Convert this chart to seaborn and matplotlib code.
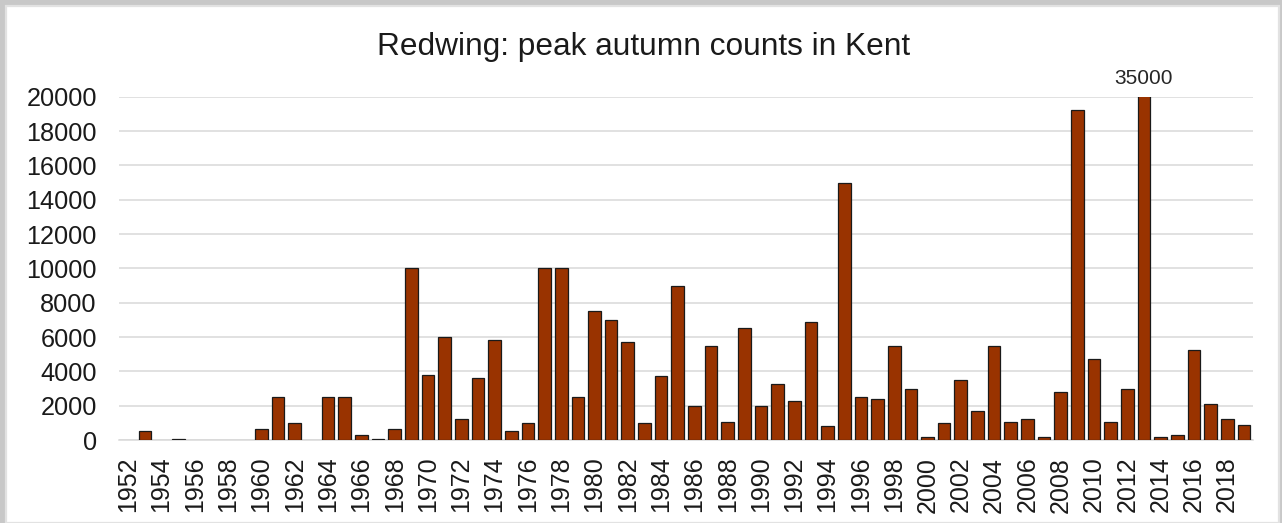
import matplotlib
matplotlib.use("Agg")
import matplotlib.pyplot as plt
from matplotlib.patches import Rectangle
import pandas as pd
import seaborn as sns

# Peak autumn Redwing counts in Kent, one value per year
years = list(range(1952, 2020))
counts = [
    0, 500, 0, 50, 0, 0, 0, 0,                 # 1952-1959
    650, 2500, 1000, 0, 2500, 2500, 300, 60,   # 1960-1967
    650, 10000, 3800, 6000, 1200, 3600, 5800,  # 1968-1974
    500, 1000, 10000, 10000, 2500, 7500, 7000, # 1975-1981
    5700, 1000, 3700, 9000, 2000, 5500, 1050,  # 1982-1988
    6500, 2000, 3250, 2300, 6900, 800, 15000,  # 1989-1995
    2500, 2400, 5500, 3000, 150, 1000, 3500,   # 1996-2002
    1700, 5500, 1050, 1200, 150, 2800, 19250,  # 2003-2009
    4700, 1050, 3000, 35000, 150, 300, 5250,   # 2010-2016
    2100, 1200, 900,                           # 2017-2019
]
y_ticks = list(range(0, 20001, 2000))
y_max = 20000
labelled_years = years[::2]
title = "Redwing: peak autumn counts in Kent"

df = pd.DataFrame({"year": [str(y) for y in years], "count": counts})

sns.set_style("white")
plt.rcParams["font.family"] = ["Liberation Sans", "DejaVu Sans"]

W, H, DPI = 1282, 523, 100
fig = plt.figure(figsize=(W / DPI, H / DPI), dpi=DPI, facecolor="#c8c8c8")

# white chart panel inside the grey frame
fig.patches.append(Rectangle((6 / W, 0), (1279 - 6) / W, 1 - 6 / H,
                             transform=fig.transFigure, facecolor="white",
                             edgecolor="#e2e2e2", linewidth=1.6, zorder=-10))

ax = fig.add_axes([119 / W, 1 - 440 / H, (1253 - 119) / W, (440 - 96.7) / H])
ax.set_facecolor("none")

sns.barplot(data=df, x="year", y="count", color="#993300", saturation=1,
            edgecolor="#1a1a1a", linewidth=0.9, width=0.76, errorbar=None,
            ax=ax, zorder=3)

# years with no count get no bar outline
for patch in ax.patches:
    if patch.get_height() == 0:
        patch.set_visible(False)

ax.set_ylim(0, y_max)
ax.set_xlim(-0.56, len(years) - 0.45)
ax.set_yticks(y_ticks)
ax.set_yticklabels([str(t) for t in y_ticks])
ax.set_xticks([years.index(y) for y in labelled_years])
ax.set_xticklabels([str(y) for y in labelled_years], rotation=90)
ax.tick_params(axis="y", length=0, pad=16, labelsize=18.2, labelcolor="#1a1a1a")
ax.tick_params(axis="x", length=0, pad=12, labelsize=18, labelcolor="#1a1a1a")
ax.set_xlabel("")
ax.set_ylabel("")

ax.grid(axis="y", color="#d9d9d9", linewidth=1.1, zorder=0)
ax.set_axisbelow(True)
for side in ("top", "right", "left"):
    ax.spines[side].set_visible(False)
ax.spines["bottom"].set_color("#d9d9d9")
ax.spines["bottom"].set_linewidth(1.1)

# value label for bars that run past the top of the scale
for i, v in enumerate(counts):
    if v > y_max:
        ax.annotate(str(v), xy=(i, y_max), xytext=(0, 6),
                    textcoords="offset points", ha="center", va="bottom",
                    fontsize=15, color="#262626", annotation_clip=False)

fig.text(644 / W, 1 - 55 / H, title, ha="center", va="baseline",
         fontsize=22.8, color="#1a1a1a")

fig.savefig("out.png", dpi=DPI, facecolor=fig.get_facecolor())
